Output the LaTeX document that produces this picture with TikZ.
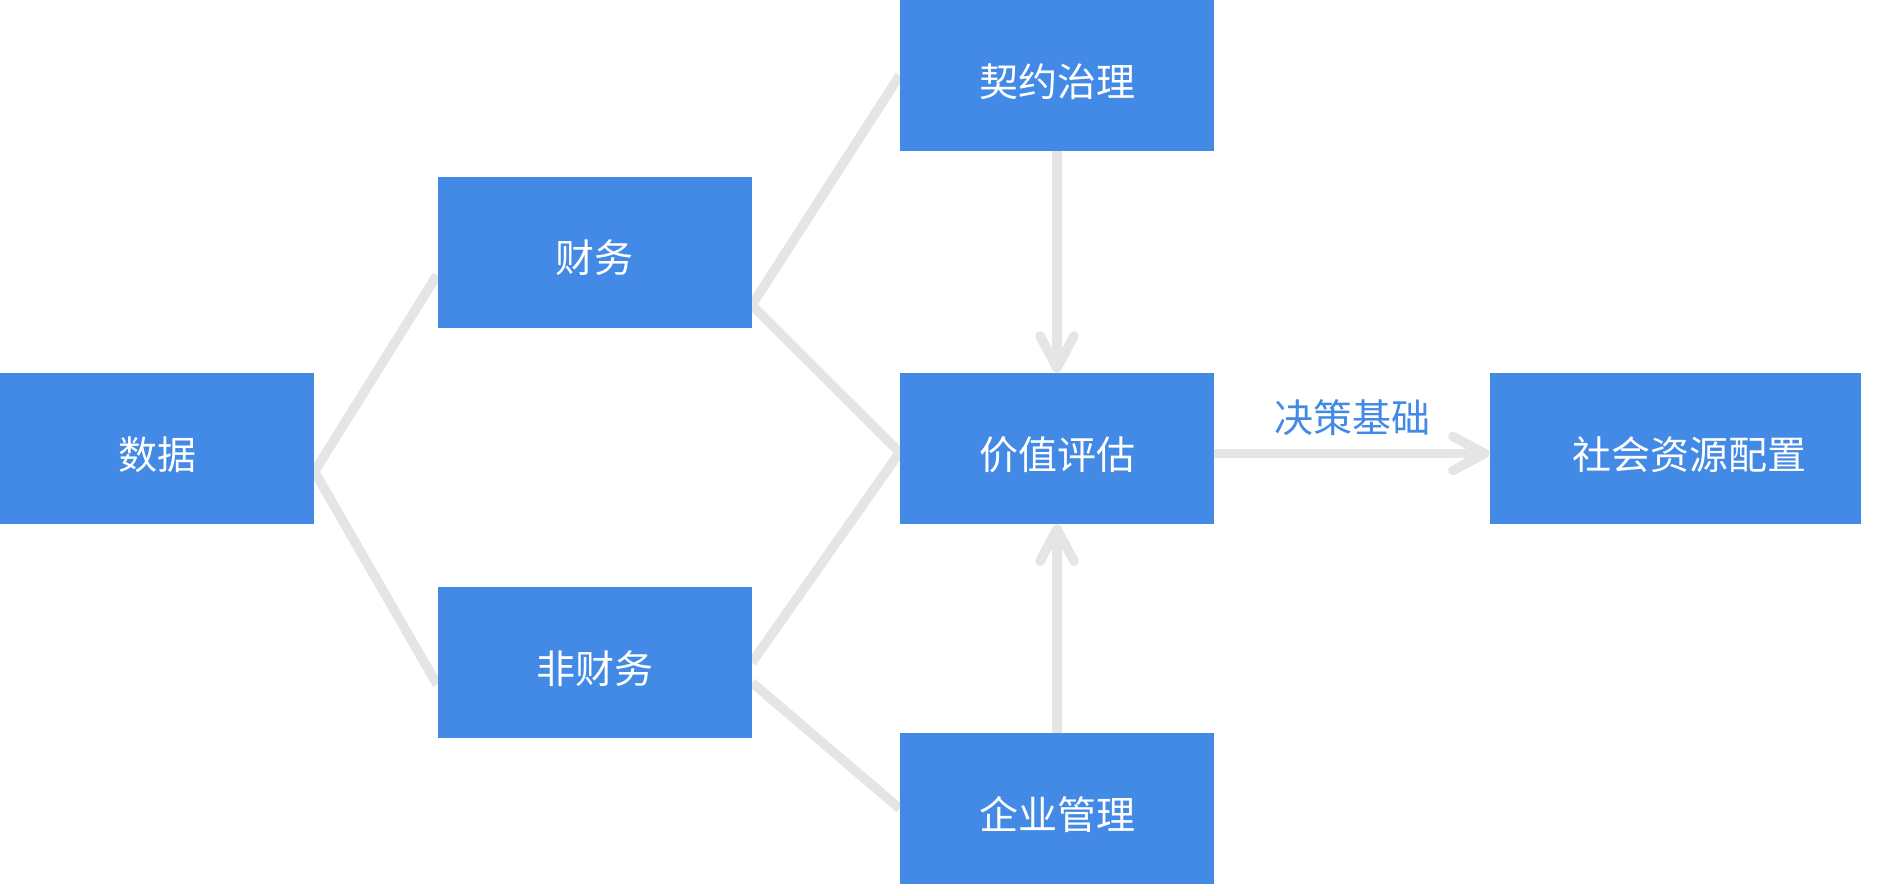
\documentclass[tikz,border=0pt]{standalone}
\usepackage{fontspec}
\setmainfont{Noto Sans CJK SC}
\usetikzlibrary{arrows.meta,backgrounds}
\definecolor{boxblue}{HTML}{428AE5}
\definecolor{linegray}{HTML}{E5E5E5}

\begin{document}
\begin{tikzpicture}[x=0.5pt, y=-0.5pt,
    box/.style={fill=boxblue, text=white, minimum width=157pt, minimum height=75.5pt, inner sep=0pt, text height=20.5pt, text depth=0pt, font=\fontsize{19.5pt}{20pt}\selectfont},
    link/.style={draw=linegray, line width=4.75pt},
    arr/.style={link, -{Straight Barb[length=16pt, width=17pt, round]}},
    lbl/.style={text=boxblue, font=\fontsize{19.5pt}{20pt}\selectfont}]
        \useasboundingbox (0,0) rectangle (1889,885);
        \node[box] (data) at (157,448.5) {数据};
        \node[box] (fin) at (594.5,252) {财务};
        \node[box] (nonfin) at (594.5,662.5) {非财务};
        \node[box] (contract) at (1057,75.5) {契约治理};
        \node[box] (value) at (1057,448.5) {价值评估};
        \node[box] (mgmt) at (1057,808.5) {企业管理};
        \node[box, minimum width=185.5pt] (social) at (1675.5,448.5) {\hspace*{14pt}社会资源配置};
        \begin{scope}[on background layer]
            \draw[link] ([yshift=-11.5pt]data.east) -- ([yshift=-11.5pt]fin.west);
            \draw[link] ([yshift=-11.5pt]data.east) -- ([yshift=-11pt]nonfin.west);
            \draw[link] ([yshift=-26.5pt]fin.east) -- (contract.west);
            \draw[link] ([yshift=-26.5pt]fin.east) -- ([yshift=-2pt]value.west);
            \draw[link] (nonfin.east) -- ([yshift=-2pt]value.west);
            \draw[link] ([yshift=-10pt]nonfin.east) -- (mgmt.west);
        \end{scope}
        \draw[arr] (contract.south) -- (value.north);
        \draw[arr] (mgmt.north) -- (value.south);
        \draw[arr] ([yshift=-2.5pt]value.east) -- ([yshift=-2.5pt]social.west) node[lbl, midway, yshift=18pt] (basis) {决策基础};
\end{tikzpicture}
\end{document}
